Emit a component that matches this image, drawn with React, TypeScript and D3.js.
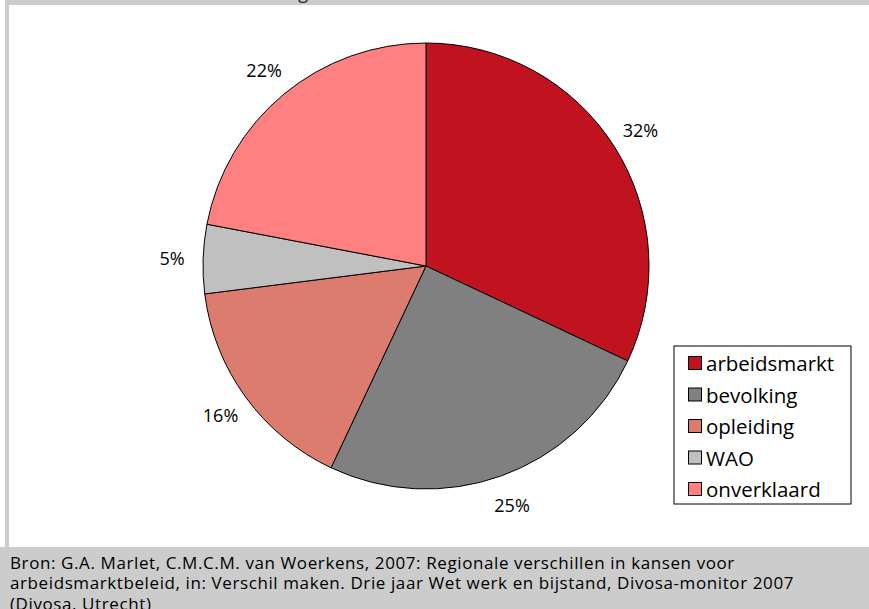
import React from "react";
import * as d3 from "d3";

const categories = ["arbeidsmarkt", "bevolking", "opleiding", "WAO", "onverklaard"];
const values = [32, 25, 16, 5, 22];
const colors = ["#C0131F", "#808080", "#DC7C6E", "#C0C0C0", "#FF8080"];
const sourceLines = [
  "Bron: G.A. Marlet, C.M.C.M. van Woerkens, 2007: Regionale verschillen in kansen voor",
  "arbeidsmarktbeleid, in: Verschil maken. Drie jaar Wet werk en bijstand, Divosa-monitor 2007",
  "(Divosa, Utrecht)",
];
const titleText = "oorzaken van de gemeenten";

const W = 869;
const H = 609;
const FONT = "'Open Sans', 'Noto Sans', sans-serif";

export default function App() {
  const cx = 426;
  const cy = 266;
  const R = 223;
  const pie = d3.pie<number>().sort(null).value((d) => d)(values);
  const arc = d3.arc<d3.PieArcDatum<number>>().innerRadius(0).outerRadius(R);
  const labelArc = d3.arc<d3.PieArcDatum<number>>().innerRadius(254).outerRadius(254);

  const legendX = 674;
  const legendY = 346;
  const rowY = d3.scaleLinear().domain([0, 4]).range([363, 489]);

  return (
    <svg
      width={W}
      height={H}
      style={{ position: "absolute", left: 0, top: 0, display: "block" }}
      fontFamily={FONT}
    >
      <rect x={0} y={0} width={W} height={H} fill="#ffffff" />
      <rect x={5} y={0} width={W - 5} height={5} fill="#CCCCCC" />
      <rect x={5} y={0} width={4} height={547} fill="#CCCCCC" />
      <rect x={0} y={547} width={W} height={H - 547} fill="#CCCCCC" />
      <text x={155} y={-1} fontSize={18} fill="#222">{titleText}</text>

      <g transform={`translate(${cx},${cy})`}>
        {pie.map((p, i) => (
          <path key={i} d={arc(p) || ""} fill={colors[i]} stroke="#000" strokeWidth={1} />
        ))}
        {pie.map((p, i) => {
          const [lx, ly] = labelArc.centroid(p);
          return (
            <text key={i} x={lx} y={ly} textAnchor="middle" dominantBaseline="central" fontSize={18} fill="#000">
              {values[i]}%
            </text>
          );
        })}
      </g>

      <rect x={legendX} y={legendY} width={177} height={158} fill="#fff" stroke="#000" strokeWidth={1} />
      {categories.map((c, i) => (
        <g key={c}>
          <rect x={688.5} y={rowY(i) - 6.5} width={13} height={13} fill={colors[i]} stroke="#000" strokeWidth={1} />
          <text x={706} y={rowY(i)} dominantBaseline="central" fontSize={20.5} fill="#000">
            {c}
          </text>
        </g>
      ))}

      {sourceLines.map((l, i) => (
        <text key={i} x={10} y={562 + i * 20.5} dominantBaseline="central" fontSize={17} letterSpacing={0.6} fill="#000">
          {l}
        </text>
      ))}
    </svg>
  );
}
